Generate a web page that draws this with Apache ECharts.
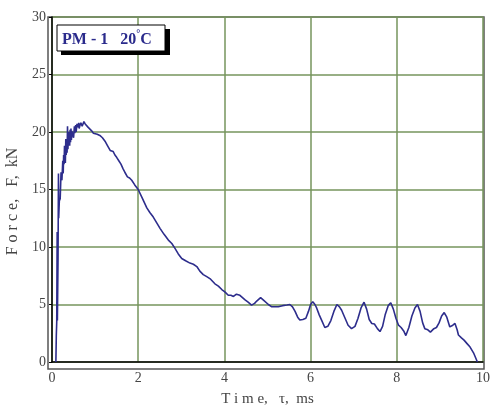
<!DOCTYPE html>
<html>
<head>
<meta charset="utf-8">
<script src="https://cdn.jsdelivr.net/npm/echarts@6/dist/echarts.min.js"></script>
<style>html,body{margin:0;padding:0;background:#fff;}#c{width:490px;height:407px;}</style>
</head>
<body>
<div id="c"></div>
<script>
var xTicks = [0, 2, 4, 6, 8, 10];
var yTicks = [0, 5, 10, 15, 20, 25, 30];
var timeMs = [0.09,0.10,0.11,0.12,0.125,0.14,0.15,0.155,0.17,0.19,0.21,0.23,0.25,0.26,0.27,0.28,0.29,0.30,0.31,0.32,0.33,0.34,0.35,0.36,0.37,0.38,0.39,0.40,0.41,0.42,0.43,0.44,0.45,0.46,0.48,0.50,0.52,0.53,0.55,0.56,0.58,0.60,0.62,0.63,0.65,0.67,0.70,0.74,0.77,0.80,0.84,0.88,0.92,0.96,1.0,1.05,1.11,1.17,1.23,1.29,1.35,1.42,1.46,1.50,1.55,1.60,1.65,1.69,1.75,1.80,1.85,1.92,2.0,2.1,2.2,2.27,2.35,2.43,2.51,2.60,2.70,2.78,2.85,2.93,3.01,3.1,3.2,3.28,3.36,3.43,3.51,3.6,3.68,3.78,3.86,3.94,4.01,4.09,4.15,4.21,4.28,4.36,4.42,4.48,4.55,4.63,4.70,4.75,4.84,4.90,4.94,5.02,5.10,5.18,5.25,5.35,5.45,5.52,5.58,5.64,5.70,5.75,5.82,5.89,5.95,6.0,6.05,6.10,6.14,6.20,6.26,6.33,6.40,6.47,6.54,6.61,6.67,6.72,6.80,6.87,6.95,7.03,7.10,7.17,7.24,7.30,7.36,7.42,7.48,7.55,7.61,7.67,7.73,7.80,7.86,7.92,7.98,8.04,8.10,8.16,8.21,8.28,8.35,8.42,8.48,8.54,8.60,8.65,8.72,8.78,8.81,8.86,8.92,8.98,9.04,9.10,9.16,9.23,9.30,9.35,9.40,9.43,9.50,9.56,9.63,9.70,9.78,9.87];
var forceKN = [0,2.3,3.5,11.3,3.6,9,16.4,12.5,14,14.2,16.5,15.8,17.5,16.4,18.0,17.2,18.8,18.2,17.3,19.4,18.0,19.2,18.2,20.5,18.5,19.8,18.9,20.0,18.8,20.2,19.1,20.3,19.3,20.1,20.2,19.5,20.5,19.9,20.6,20.0,20.7,20.4,20.8,20.3,20.6,20.8,20.5,20.9,20.7,20.7,20.4,20.3,20.1,19.9,19.9,19.8,19.7,19.5,19.2,18.8,18.4,18.3,18.0,17.8,17.5,17.2,16.8,16.5,16.1,16.0,15.8,15.4,15.0,14.2,13.4,13.0,12.6,12.1,11.6,11.1,10.6,10.3,9.9,9.4,9.0,8.8,8.6,8.5,8.3,7.9,7.6,7.4,7.2,6.8,6.6,6.3,6.1,5.8,5.8,5.7,5.9,5.8,5.6,5.4,5.2,4.95,5.1,5.3,5.6,5.4,5.3,5.0,4.8,4.8,4.8,4.9,4.95,5.0,4.8,4.4,3.9,3.65,3.7,3.8,4.4,5.0,5.25,5.0,4.7,4.1,3.6,3.0,3.1,3.6,4.4,5.0,4.8,4.5,3.8,3.2,2.9,3.1,3.8,4.7,5.2,4.6,3.7,3.35,3.3,2.9,2.65,3.1,4.1,4.9,5.15,4.6,3.8,3.2,3.0,2.7,2.3,3.0,4.0,4.7,5.0,4.4,3.4,2.9,2.8,2.6,2.65,2.9,3.0,3.4,4.0,4.3,3.9,3.05,3.2,3.35,2.8,2.35,2.1,1.9,1.6,1.3,0.8,0.0];
var seriesData = timeMs.map(function (t, i) { return [t, forceKN[i]]; });

var chart = echarts.init(document.getElementById('c'));
var gridGreen = '#76955d';
var serif = '"Liberation Serif", "DejaVu Serif", serif';
chart.setOption({
  animation: false,
  backgroundColor: '#fff',
  grid: { left: 52, right: 7, top: 17, bottom: 45, containLabel: false, outerBoundsMode: 'none' },
  xAxis: {
    type: 'value', min: xTicks[0], max: xTicks[xTicks.length - 1], interval: 2,
    offset: 7,
    axisLine: { show: true, lineStyle: { color: '#000', width: 1.5 } },
    axisTick: { show: false },
    axisLabel: { color: '#444', fontFamily: serif, fontSize: 14, margin: 2 },
    splitLine: { show: true, lineStyle: { color: gridGreen, width: 1.5 } },
    name: 'T i m e,   τ,  ms', nameLocation: 'middle', nameGap: 23,
    nameTextStyle: { color: '#444', fontFamily: serif, fontSize: 15 }
  },
  yAxis: {
    type: 'value', min: yTicks[0], max: yTicks[yTicks.length - 1], interval: 5,
    offset: 4,
    axisLine: { show: true, lineStyle: { color: '#000', width: 1.5 } },
    axisTick: { show: true, length: 3, lineStyle: { color: '#000' } },
    axisLabel: { color: '#444', fontFamily: serif, fontSize: 14, margin: 2 },
    splitLine: { show: true, lineStyle: { color: gridGreen, width: 1.5 } },
    name: 'F o r c e,   F,  kN      ', nameLocation: 'middle', nameGap: 21,
    nameTextStyle: { color: '#444', fontFamily: serif, fontSize: 16 }
  },
  graphic: [
    { type: 'rect', z: 0, silent: true, shape: { x: 48, y: 17, width: 436, height: 352 },
      style: { fill: 'none', stroke: '#555', lineWidth: 1.5 } },
    { type: 'rect', z: 10, shape: { x: 61, y: 29, width: 109, height: 26 }, style: { fill: '#000' } },
    { type: 'rect', z: 11, shape: { x: 57, y: 25, width: 108, height: 26 },
      style: { fill: '#fff', stroke: '#000', lineWidth: 1 } },
    { type: 'text', z: 12, left: 62, top: 29,
      style: {
        text: '{a|PM - 1   20}{s|°}{a|C}',
        rich: {
          a: { fontFamily: serif, fontSize: 16, fontWeight: 'bold', fill: '#2b2b8c', verticalAlign: 'bottom', lineHeight: 19 },
          s: { fontFamily: serif, fontSize: 10, fontWeight: 'bold', fill: '#2b2b8c', verticalAlign: 'top', lineHeight: 19, padding: [0, 0, 8, 0] }
        }
      } }
  ],
  series: [{
    type: 'line', data: seriesData, showSymbol: false, symbol: 'none',
    lineStyle: { color: '#2d2d8c', width: 1.6 }, z: 5
  }]
});
</script>
</body>
</html>
